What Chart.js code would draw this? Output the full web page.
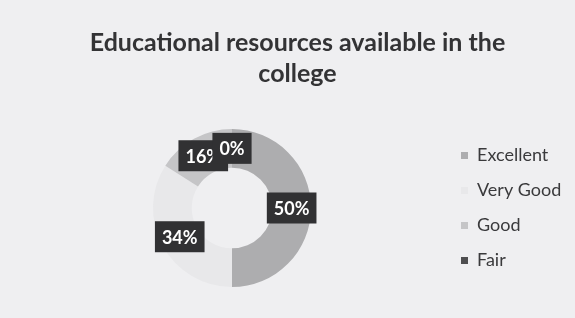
<!DOCTYPE html>
<html>
<head>
<meta charset="utf-8">
<script src="https://cdn.jsdelivr.net/npm/chart.js@4/dist/chart.umd.min.js"></script>
<style>
  html, body { margin: 0; padding: 0; background: #efeff1; }
  #wrap { width: 575px; height: 318px; }
</style>
</head>
<body>
<div id="wrap"><canvas id="chart" width="575" height="318"></canvas></div>
<script>
// ---- data ----
const categories = ['Excellent', 'Very Good', 'Good', 'Fair'];
const shares = [50, 34, 16, 0];
const sliceColors = ['#adadaf', '#e8e8ea', '#c5c5c7', '#4e4e50'];
const titleLines = ['Educational resources available in the', 'college'];

// dark label boxes at each slice centre (like Excel data labels)
const boxLabels = {
    id: 'boxLabels',
    afterDatasetsDraw(chart) {
        const ctx = chart.ctx;
        const meta = chart.getDatasetMeta(0);
        ctx.save();
        ctx.font = 'bold 18px Lato';
        ctx.textAlign = 'center';
        ctx.textBaseline = 'middle';
        meta.data.forEach((arc, i) => {
            const p = arc.getCenterPoint();
            const txt = shares[i] + '%';
            const w = ctx.measureText(txt).width + 14;
            const h = 31;
            ctx.fillStyle = '#313133';
            ctx.fillRect(p.x - w / 2, p.y - h / 2, w, h);
            ctx.fillStyle = '#ffffff';
            ctx.fillText(txt, p.x, p.y + 1);
        });
        ctx.restore();
    }
};

// fixed legend width so the doughnut sits where it does in the original
const legendWidth = {
    id: 'legendWidth',
    beforeInit(chart) {
        const fit = chart.legend.fit;
        chart.legend.fit = function () {
            fit.bind(this)();
            this.width = 131;
        };
    }
};

new Chart(document.getElementById('chart'), {
    type: 'doughnut',
    data: {
        labels: categories,
        datasets: [{
            data: shares,
            backgroundColor: sliceColors,
            borderWidth: 0
        }]
    },
    options: {
        responsive: false,
        animation: false,
        cutout: '51%',
        layout: { padding: { left: 20, right: 0, top: 0, bottom: 31 } },
        plugins: {
            tooltip: { enabled: false },
            title: {
                display: true,
                text: titleLines,
                color: '#333335',
                font: { family: 'Lato', size: 25, weight: 'bold', lineHeight: 1.24 },
                padding: { top: 27, bottom: 40 }
            },
            legend: {
                position: 'right',
                fullSize: false,
                labels: {
                    boxWidth: 7,
                    boxHeight: 7,
                    padding: 17,
                    color: '#3a3a3c',
                    font: { family: 'Lato', size: 18 }
                }
            }
        }
    },
    plugins: [boxLabels, legendWidth]
});
</script>
</body>
</html>
